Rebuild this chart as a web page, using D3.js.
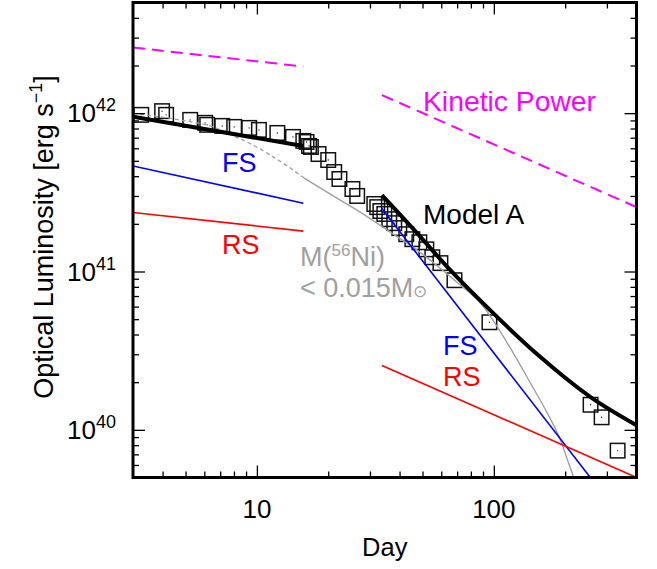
<!DOCTYPE html>
<html>
<head>
<meta charset="utf-8">
<script src="https://cdn.jsdelivr.net/npm/d3@7"></script>
<style>
  html, body { margin: 0; padding: 0; background: #fff; }
  svg { display: block; font-family: "Liberation Sans", Arial, Helvetica, sans-serif; }
</style>
</head>
<body>
<svg id="chart" width="657" height="569"></svg>
<script>
// Observed optical light curve (day, erg/s)
const obsDay = [3.25, 3.98, 4.14, 5.23, 6.05, 6.17, 7.14, 8.02, 9.28, 10.2, 12.2, 14.2,
  15.7, 16.2, 16.6, 16.9, 18.2, 20.0, 21.2, 22.3, 25.3, 26.5, 31.3, 32.2, 33.2, 34.5,
  36.2, 38.0, 39.9, 42.7, 45.3, 48.5, 51.9, 55.0, 59.5, 68.2, 95.8, 256, 285, 333];
const obsLum = [9.76e41, 1.03e42, 9.76e41, 9.07e41, 8.69e41, 8.44e41, 8.31e41, 8.19e41,
  8.07e41, 7.84e41, 7.50e41, 7.08e41, 6.68e41, 6.58e41, 6.21e41, 6.12e41, 5.52e41, 5.06e41,
  4.25e41, 3.84e41, 3.32e41, 3.00e41, 2.67e41, 2.55e41, 2.41e41, 2.31e41, 2.14e41, 2.02e41,
  1.88e41, 1.72e41, 1.60e41, 1.53e41, 1.38e41, 1.23e41, 1.13e41, 8.81e40, 4.78e40,
  1.44e40, 1.20e40, 7.39e39];

// Model A total luminosity
const modelAEarlyDay = [3, 15.7];
const modelAEarlyLum = [9.5e41, 6.2e41];
const modelALateDay = [33.7, 46.6, 64.5, 101.6, 157.3, 255.9, 400];
const modelALateLum = [3.04e41, 1.80e41, 1.045e41, 5.28e40, 2.88e40, 1.61e40, 1.07e40];

// Forward-shock and reverse-shock components
const fsEarlyDay = [3, 15.7];
const fsEarlyLum = [4.64e41, 2.7e41];
const fsLateDay = [33.7, 400];
const fsLateLum = [2.5e41, 2.1e39];
const rsEarlyDay = [3, 15.7];
const rsEarlyLum = [2.36e41, 1.8e41];
const rsLateDay = [33.7, 400];
const rsLateLum = [2.55e40, 5.0e39];

// Kinetic power of the shocks
const kinEarlyDay = [3, 15.7];
const kinEarlyLum = [2.6e42, 1.97e42];
const kinLateDay = [33.7, 400];
const kinLateLum = [1.3e42, 2.55e41];

// 56Ni decay upper limit (dashed before day ~16, solid after)
const niDay = [3.006, 4.74, 6.54, 7.71, 9.37, 11.38, 13.43, 15.84, 20.4, 27.3, 36.6, 45.7,
  52.4, 61.2, 72.3, 87.8, 103.6, 121, 142.8, 168.4, 191.2, 204.6, 217, 227.8];
const niLum = [9.98e41, 9.05e41, 8.18e41, 7.33e41, 6.43e41, 5.44e41, 4.64e41, 3.89e41,
  3.08e41, 2.37e41, 1.77e41, 1.42e41, 1.22e41, 1.01e41, 8.2e40, 6.32e40, 4.46e40, 3.04e40,
  1.97e40, 1.27e40, 8.61e39, 6.44e39, 5.02e39, 3.86e39];
const niDashEnd = 15.84;

// Axis ticks
const xMajor = [10, 100];
const xMinor = [4, 5, 6, 7, 8, 9, 20, 30, 40, 50, 60, 70, 80, 90, 200, 300];
const yMajorExp = [40, 41, 42];
const yMinor = [6e39, 7e39, 8e39, 9e39, 2e40, 3e40, 4e40, 5e40, 6e40, 7e40, 8e40, 9e40,
  2e41, 3e41, 4e41, 5e41, 6e41, 7e41, 8e41, 9e41, 2e42, 3e42, 4e42];

const W = 657, H = 569;
const L = 133, R = 636.5, T = 2.5, B = 477.5;

const svg = d3.select("#chart");
const x = d3.scaleLog().domain([3, 400]).range([L, R]);
const y = d3.scaleLog().domain([5e39, 5e42]).range([B, T]);

svg.append("defs").append("clipPath").attr("id", "plotClip")
  .append("rect").attr("x", L).attr("y", T).attr("width", R - L).attr("height", B - T);

const plot = svg.append("g").attr("clip-path", "url(#plotClip)");

const zip = (a, b) => a.map((d, i) => [d, b[i]]);
const line = d3.line().x(d => x(d[0])).y(d => y(d[1]));
const curve = d3.line().x(d => x(d[0])).y(d => y(d[1])).curve(d3.curveMonotoneX);

// Observation squares
const obs = zip(obsDay, obsLum);
const sq = 14.5;
plot.append("g").selectAll("rect").data(obs).join("rect")
  .attr("x", d => x(d[0]) - sq / 2).attr("y", d => y(d[1]) - sq / 2)
  .attr("width", sq).attr("height", sq)
  .attr("fill", "none").attr("stroke", "#111").attr("stroke-width", 1.5);
plot.append("g").selectAll("circle").data(obs).join("circle")
  .attr("cx", d => x(d[0])).attr("cy", d => y(d[1])).attr("r", 0.7).attr("fill", "#222");

// Kinetic power (dashed magenta)
[[kinEarlyDay, kinEarlyLum], [kinLateDay, kinLateLum]].forEach(([d, l]) => {
  plot.append("path").attr("d", line(zip(d, l)))
    .attr("fill", "none").attr("stroke", "#ff00ff").attr("stroke-width", 2)
    .attr("stroke-dasharray", "12,7");
});

// 56Ni curve
const ni = zip(niDay, niLum);
plot.append("path").attr("d", curve(ni.filter(d => d[0] <= niDashEnd)))
  .attr("fill", "none").attr("stroke", "#a0a0a0").attr("stroke-width", 1.3)
  .attr("stroke-dasharray", "4,3");
plot.append("path").attr("d", curve(ni.filter(d => d[0] >= niDashEnd)))
  .attr("fill", "none").attr("stroke", "#a0a0a0").attr("stroke-width", 1.4);

// Shock components
[[fsEarlyDay, fsEarlyLum, "#0000ff"], [fsLateDay, fsLateLum, "#0000ff"],
 [rsEarlyDay, rsEarlyLum, "#ff0000"], [rsLateDay, rsLateLum, "#ff0000"]].forEach(([d, l, c]) => {
  plot.append("path").attr("d", line(zip(d, l)))
    .attr("fill", "none").attr("stroke", c).attr("stroke-width", 1.6);
});

// Model A
plot.append("path").attr("d", line(zip(modelAEarlyDay, modelAEarlyLum)))
  .attr("fill", "none").attr("stroke", "#000").attr("stroke-width", 4);
plot.append("path").attr("d", curve(zip(modelALateDay, modelALateLum)))
  .attr("fill", "none").attr("stroke", "#000").attr("stroke-width", 4);

// Ticks on all four sides, pointing inward
const axes = svg.append("g");
function tickAxis(axisFn, scale, values, size, transform) {
  const g = axes.append("g").attr("transform", transform)
    .call(axisFn(scale).tickValues(values).tickSize(size).tickFormat(""));
  g.select(".domain").remove();
  g.selectAll(".tick line").attr("stroke", "#000").attr("stroke-width", 1.3);
}
tickAxis(d3.axisBottom, x, xMajor, -12, `translate(0,${B})`);
tickAxis(d3.axisBottom, x, xMinor, -6, `translate(0,${B})`);
tickAxis(d3.axisTop, x, xMajor, -12, `translate(0,${T})`);
tickAxis(d3.axisTop, x, xMinor, -6, `translate(0,${T})`);
const yMajor = yMajorExp.map(e => Math.pow(10, e));
tickAxis(d3.axisLeft, y, yMajor, -12, `translate(${L},0)`);
tickAxis(d3.axisLeft, y, yMinor, -6, `translate(${L},0)`);
tickAxis(d3.axisRight, y, yMajor, -12, `translate(${R},0)`);
tickAxis(d3.axisRight, y, yMinor, -6, `translate(${R},0)`);

// Frame
svg.append("rect").attr("x", L).attr("y", T).attr("width", R - L).attr("height", B - T)
  .attr("fill", "none").attr("stroke", "#000").attr("stroke-width", 3);

// Tick labels
svg.append("g").selectAll("text").data(xMajor).join("text")
  .attr("x", d => x(d)).attr("y", 518).attr("text-anchor", "middle")
  .attr("font-size", 26).text(d => d);

const yl = svg.append("g").selectAll("text").data(yMajorExp).join("text")
  .attr("x", 116).attr("y", d => y(Math.pow(10, d)) + 9)
  .attr("text-anchor", "end").attr("font-size", 26);
yl.append("tspan").text("10");
yl.append("tspan").attr("dy", -11).attr("font-size", 18).text(d => d);

// Axis titles
svg.append("text").attr("x", (L + R) / 2).attr("y", 556).attr("text-anchor", "middle")
  .attr("font-size", 25.5).text("Day");
const yt = svg.append("text").attr("transform", `translate(53,237) rotate(-90)`)
  .attr("text-anchor", "middle").attr("font-size", 27);
yt.append("tspan").text("Optical Luminosity [erg s");
yt.append("tspan").attr("dy", -11).attr("font-size", 18).text("\u22121");
yt.append("tspan").attr("dy", 11).text("]");

// Annotations
const ann = svg.append("g").attr("font-size", 27);
ann.append("text").attr("x", 222).attr("y", 172).attr("fill", "#0000ff").text("FS");
ann.append("text").attr("x", 222).attr("y", 254).attr("fill", "#ff0000").text("RS");
ann.append("text").attr("x", 443).attr("y", 355).attr("fill", "#0000ff").text("FS");
ann.append("text").attr("x", 443).attr("y", 386).attr("fill", "#ff0000").text("RS");
ann.append("text").attr("x", 423).attr("y", 224).attr("font-size", 28).attr("fill", "#000").text("Model A");
ann.append("text").attr("x", 423).attr("y", 111).attr("font-size", 28.3).attr("fill", "#ff00ff").text("Kinetic Power");
const ni1 = ann.append("text").attr("x", 300).attr("y", 266).attr("fill", "#a0a0a0");
ni1.append("tspan").text("M(");
ni1.append("tspan").attr("dy", -10).attr("font-size", 17).text("56");
ni1.append("tspan").attr("dy", 10).text("Ni)");
const ni2 = ann.append("text").attr("x", 300).attr("y", 297).attr("fill", "#a0a0a0");
ni2.append("tspan").text("< 0.015M");
ni2.append("tspan").attr("font-size", 17).text("\u2299");
</script>
</body>
</html>
